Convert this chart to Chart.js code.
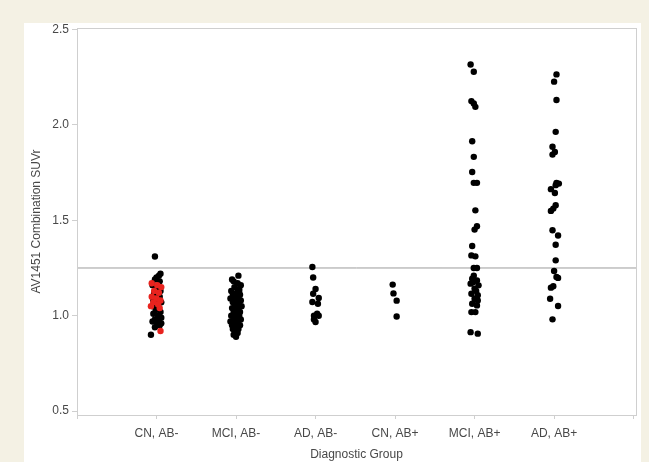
<!DOCTYPE html>
<html>
<head>
<meta charset="utf-8">
<script src="https://cdn.jsdelivr.net/npm/chart.js@4/dist/chart.umd.min.js"></script>
<style>
  html, body { margin: 0; padding: 0; background: #f4f1e4; }
  #wrap { width: 649px; height: 462px; position: relative; }
</style>
</head>
<body>
<div id="wrap"><canvas id="c" width="649" height="462"></canvas></div>
<script>
// categories along the x axis (positions 1..6)
const groups = ['CN, AB-', 'MCI, AB-', 'AD, AB-', 'CN, AB+', 'MCI, AB+', 'AD, AB+'];
const yTicks = [0.5, 1.0, 1.5, 2.0, 2.5];
const cutoff = 1.25;

// each point: [jitter offset from group centre, SUVr]
const cnNeg = [[-0.02,1.31],[-0.07,0.90],[0.05,1.22],[0.03,1.21],[0.00,1.20],[-0.02,1.19],[0.04,1.18],[-0.05,1.16],
  [0.02,1.15],[0.05,1.13],[-0.03,1.12],[0.04,1.10],[0.00,1.09],[-0.04,1.08],[0.06,1.07],[0.02,1.06],[-0.05,1.05],
  [0.03,1.04],[-0.01,1.03],[0.05,1.02],[-0.04,1.01],[0.02,1.00],[0.06,0.99],[-0.02,0.98],[0.03,0.97],[-0.05,0.97],
  [0.01,0.96],[0.04,0.95],[-0.02,0.94],[0.06,0.96]];
const cnNegRed = [[-0.06,1.17],[0.01,1.16],[0.06,1.15],[-0.03,1.13],[0.03,1.12],[-0.06,1.10],[0.00,1.09],[0.05,1.08],
  [-0.04,1.07],[0.02,1.06],[-0.07,1.05],[0.04,1.04],[0.05,0.92]];
const mciNeg = [[0.03,1.21],[-0.05,1.19],[-0.03,1.18],[0.02,1.17],[0.06,1.16],[-0.02,1.15],[0.04,1.14],[-0.06,1.13],
  [0.01,1.12],[0.05,1.11],[-0.03,1.10],[0.03,1.10],[-0.07,1.09],[0.00,1.08],[0.06,1.08],[-0.04,1.07],[0.03,1.06],
  [-0.01,1.05],[0.07,1.05],[-0.05,1.04],[0.02,1.03],[0.05,1.02],[-0.03,1.02],[0.00,1.01],[-0.06,1.00],[0.04,1.00],
  [0.01,0.99],[-0.03,0.98],[0.06,0.98],[-0.07,0.97],[0.02,0.97],[-0.02,0.96],[0.05,0.95],[-0.05,0.95],[0.00,0.94],
  [0.03,0.93],[-0.04,0.93],[-0.01,0.92],[0.02,0.91],[-0.03,0.90],[0.00,0.89],[0.04,1.13],[-0.04,1.11],[0.02,1.09],
  [-0.02,1.04]];
const adNeg = [[-0.04,1.255],[-0.03,1.20],[0.00,1.14],[-0.03,1.115],[0.04,1.093],[-0.04,1.072],[0.03,1.063],
  [0.02,1.01],[-0.02,1.00],[0.04,1.00],[0.00,0.967],[-0.02,0.98]];
const cnPos = [[-0.03,1.163],[-0.02,1.117],[0.02,1.079],[0.02,0.996]];
const mciPos = [[-0.05,2.316],[-0.01,2.278],[-0.04,2.124],[-0.01,2.112],[0.01,2.094],[-0.03,1.914],[-0.01,1.832],
  [-0.03,1.753],[-0.01,1.696],[0.03,1.696],[0.01,1.552],[0.03,1.469],[0.00,1.451],[-0.03,1.365],[-0.04,1.316],
  [0.01,1.311],[-0.01,1.25],[0.03,1.25],[-0.03,1.194],[0.03,1.185],[-0.05,1.168],[0.05,1.159],[0.00,1.142],
  [-0.04,1.115],[0.04,1.107],[0.00,1.089],[-0.03,1.063],[0.03,1.054],[-0.04,1.019],[0.01,1.019],[-0.05,0.914],
  [0.04,0.906],[0.02,1.13],[-0.02,1.175],[0.04,1.08],[-0.01,1.21]];
const adPos = [[0.03,2.264],[0.00,2.226],[0.03,2.13],[0.02,1.963],[-0.02,1.885],[0.01,1.858],[-0.02,1.844],
  [0.03,1.696],[0.06,1.692],[0.02,1.684],[-0.04,1.663],[0.01,1.643],[0.02,1.579],[-0.01,1.561],[-0.04,1.549],
  [-0.02,1.448],[0.05,1.42],[0.02,1.372],[0.02,1.29],[0.00,1.234],[0.03,1.203],[0.05,1.198],[-0.01,1.154],
  [-0.04,1.147],[-0.05,1.089],[0.05,1.051],[-0.02,0.981]];

const blackGroups = [cnNeg, mciNeg, adNeg, cnPos, mciPos, adPos];
const toPts = (arr, pos) => arr.map(([dx, y]) => ({ x: pos + dx, y }));
const blackPts = blackGroups.flatMap((g, i) => toPts(g, i + 1));
const redPts = toPts(cnNegRed, 1);

const textColor = '#484848';
const font = { family: 'Liberation Sans, Arial, sans-serif', size: 12 };

const framePlugin = {
  id: 'frame',
  beforeDraw(chart) {
    const { ctx } = chart;
    ctx.save();
    ctx.fillStyle = '#f4f1e4';
    ctx.fillRect(0, 0, chart.width, chart.height);
    ctx.fillStyle = '#ffffff';
    ctx.fillRect(24, 23, 617, 439);
    ctx.restore();
  },
  afterDatasetsDraw(chart) {
    const { ctx, chartArea: a } = chart;
    ctx.save();
    ctx.strokeStyle = '#cfcfcf';
    ctx.lineWidth = 1;
    ctx.strokeRect(Math.round(a.left) + 0.5, Math.round(a.top) + 0.5, Math.round(a.right - a.left), Math.round(a.bottom - a.top));
    ctx.restore();
  }
};

new Chart(document.getElementById('c'), {
  type: 'scatter',
  data: {
    datasets: [
      { type: 'line', data: [{ x: -0.05, y: cutoff }, { x: 7.05, y: cutoff }], borderColor: '#9c9c9c', borderWidth: 1, pointRadius: 0, order: 3 },
      { data: blackPts, backgroundColor: '#000', borderColor: '#000', pointRadius: 3.2, borderWidth: 0, order: 2 },
      { data: redPts, backgroundColor: '#e8231e', borderColor: '#e8231e', pointRadius: 3.2, borderWidth: 0, order: 1 }
    ]
  },
  options: {
    responsive: false,
    animation: false,
    layout: { padding: { top: 28, right: 13, left: 24, bottom: 0 } },
    plugins: { legend: { display: false }, tooltip: { enabled: false } },
    scales: {
      x: {
        type: 'linear', min: 0, max: 7.03,
        afterBuildTicks: s => { s.ticks = [0, 1, 2, 3, 4, 5, 6, 7].map(v => ({ value: v })); },
        afterFit: s => { s.height = 47; },
        ticks: { color: textColor, font, padding: 7, maxRotation: 0, autoSkip: false,
          callback: v => groups[v - 1] || '' },
        grid: { drawOnChartArea: false, tickLength: 4, color: '#cfcfcf' },
        border: { color: '#cfcfcf' },
        title: { display: true, text: 'Diagnostic Group', color: textColor, font, padding: { top: 0, bottom: 0 } }
      },
      y: {
        min: 0.48, max: 2.507,
        afterBuildTicks: s => { s.ticks = yTicks.map(v => ({ value: v })); },
        afterFit: s => { s.width = 53; },
        ticks: { color: textColor, font, padding: 3, callback: v => v.toFixed(1) },
        grid: { drawOnChartArea: false, tickLength: 5, color: '#cfcfcf' },
        border: { color: '#cfcfcf' },
        title: { display: true, text: 'AV1451 Combination SUVr', color: textColor, font, padding: { top: 5, bottom: 0 } }
      }
    }
  },
  plugins: [framePlugin]
});
</script>
</body>
</html>
